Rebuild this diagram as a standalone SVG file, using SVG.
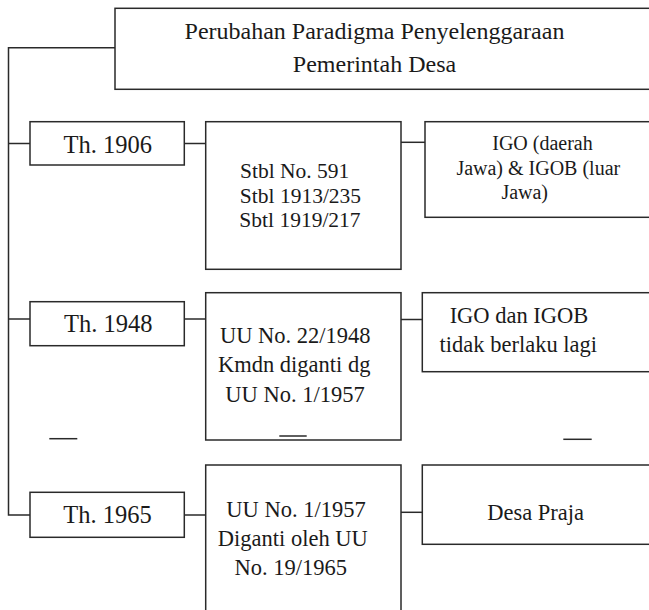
<svg xmlns="http://www.w3.org/2000/svg" width="649" height="610" viewBox="0 0 649 610">
<style>
  .box { fill: #ffffff; stroke: #2a2a2a; stroke-width: 1.5; }
  .ln { fill: none; stroke: #2a2a2a; stroke-width: 1.5; }
  text { fill: #1a1a1a; text-anchor: middle; font-family: "Liberation Serif", "Times New Roman", serif; }
  .t24 { font-size: 24px; }
  .th { font-size: 24.5px; }
  .m1 { font-size: 21.5px; }
  .m2 { font-size: 22.5px; }
  .r1 { font-size: 20px; }
</style>
<rect width="649" height="610" fill="#ffffff"/>
<g id="title">
  <rect class="box" x="115" y="8.3" width="550" height="81"/>
  <text class="t24" x="374.5" y="39.3">Perubahan Paradigma Penyelenggaraan</text>
  <text class="t24" x="374.5" y="72">Pemerintah Desa</text>
</g>
<g id="th1906">
  <rect class="box" x="30" y="121.7" width="154.3" height="43.3"/>
  <text class="th" x="107.8" y="152.5">Th. 1906</text>
</g>
<g id="stbl">
  <rect class="box" x="205.7" y="121.7" width="195.3" height="147.6"/>
  <text class="m1" x="294.7" y="178.3">Stbl No. 591</text>
  <text class="m1" x="300.5" y="203.3">Stbl 1913/235</text>
  <text class="m1" x="300" y="227.3">Sbtl 1919/217</text>
</g>
<g id="igo1">
  <rect class="box" x="425" y="121.7" width="240" height="95.6"/>
  <text class="r1" x="542.5" y="150">IGO (daerah</text>
  <text class="r1" x="538.3" y="175">Jawa) &amp; IGOB (luar</text>
  <text class="r1" x="524.7" y="199.3">Jawa)</text>
</g>
<g id="th1948">
  <rect class="box" x="30" y="301.7" width="154.3" height="44"/>
  <text class="th" x="108.3" y="331.7">Th. 1948</text>
</g>
<g id="uu1948">
  <rect class="box" x="205.7" y="292.7" width="195.3" height="147.3"/>
  <text class="m2" x="295.3" y="342.7">UU No. 22/1948</text>
  <text class="m2" x="294.2" y="372.2">Kmdn diganti dg</text>
  <text class="m2" x="295" y="401.7">UU No. 1/1957</text>
</g>
<g id="igo2">
  <rect class="box" x="422.3" y="292.7" width="243" height="79"/>
  <text class="m2" x="519" y="323.3">IGO dan IGOB</text>
  <text class="m2" x="518.3" y="351.7">tidak berlaku lagi</text>
</g>
<g id="th1965">
  <rect class="box" x="30" y="492.3" width="154.3" height="45"/>
  <text class="th" x="107.6" y="523">Th. 1965</text>
</g>
<g id="uu1957">
  <rect class="box" x="205.7" y="465" width="195.3" height="160"/>
  <text class="m2" x="296" y="517">UU No. 1/1957</text>
  <text class="m2" x="292.8" y="546">Diganti oleh UU</text>
  <text class="m2" x="290.7" y="575">No. 19/1965</text>
</g>
<g id="desapraja">
  <rect class="box" x="422.3" y="465" width="243" height="79.3"/>
  <text class="m2" x="535.6" y="520">Desa Praja</text>
</g>
<g id="connectors">
  <path class="ln" d="M115,47.7 H8.5 V515 H30"/>
  <path class="ln" d="M8.5,143.5 H30"/>
  <path class="ln" d="M8.5,319 H30"/>
  <path class="ln" d="M184.3,143.5 H205.7"/>
  <path class="ln" d="M401,142.3 H425"/>
  <path class="ln" d="M184.3,319 H205.7"/>
  <path class="ln" d="M401,319.5 H422.3"/>
  <path class="ln" d="M184.3,515 H205.7"/>
  <path class="ln" d="M401,512.3 H422.3"/>
  <path class="ln" d="M49.3,438.7 H77.3"/>
  <path class="ln" d="M279.3,436 H306.7"/>
  <path class="ln" d="M563.3,439.3 H591.7"/>
</g>
</svg>
